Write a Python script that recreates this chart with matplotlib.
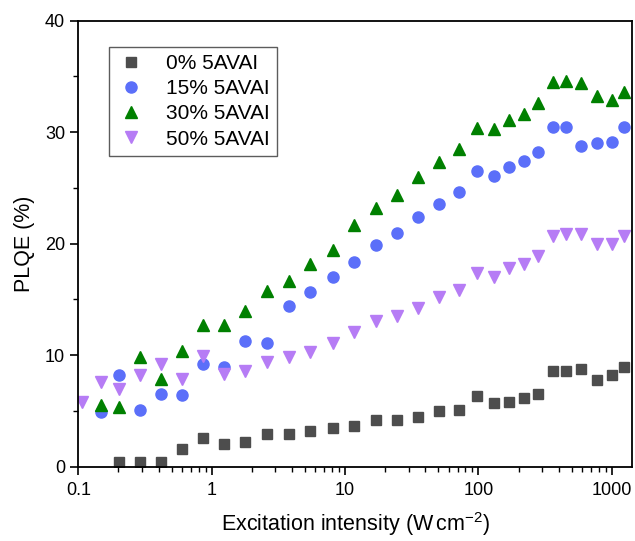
import numpy as np
import matplotlib.pyplot as plt
from matplotlib.ticker import FixedLocator, NullFormatter, LogLocator

plt.rcParams['font.family'] = ['Liberation Sans', 'DejaVu Sans']
plt.rcParams['mathtext.fontset'] = 'custom'
plt.rcParams['mathtext.rm'] = 'Liberation Sans'
plt.rcParams['mathtext.it'] = 'Liberation Sans:italic'

# excitation intensity grid (W cm-2)
x_all = [0.106, 0.147, 0.203, 0.29, 0.415, 0.596, 0.856, 1.24, 1.79, 2.60,
         3.78, 5.48, 8.11, 11.7, 17.1, 24.6, 35.4, 50.3, 71.1, 97, 130, 170,
         218, 281, 360, 455, 590, 769, 1002, 1233]

x_0 = x_all[2:]
y_0 = [0.40, 0.38, 0.40, 1.56, 2.55, 2.07, 2.25, 2.97, 2.95, 3.21, 3.48, 3.64,
       4.17, 4.15, 4.47, 4.97, 5.07, 6.32, 5.69, 5.78, 6.14, 6.53, 8.57, 8.60,
       8.72, 7.82, 8.21, 8.98]

x_15 = x_all[1:]
y_15 = [4.89, 8.24, 5.12, 6.50, 6.45, 9.25, 8.96, 11.29, 11.14, 14.38, 15.67,
        17.02, 18.40, 19.92, 20.94, 22.41, 23.60, 24.62, 26.48, 26.06, 26.84,
        27.44, 28.19, 30.43, 30.43, 28.79, 28.99, 29.08, 30.43]

x_30 = x_all[1:]
y_30 = [5.51, 5.39, 9.83, 7.88, 10.40, 12.67, 12.67, 13.99, 15.72, 16.68,
        18.18, 19.47, 21.65, 23.22, 24.35, 25.97, 27.29, 28.48, 30.34, 30.28,
        31.12, 31.66, 32.61, 34.50, 34.56, 34.41, 33.24, 32.86, 33.64]

x_50 = x_all
y_50 = [5.84, 7.58, 7.01, 8.24, 9.23, 7.88, 9.95, 8.33, 8.57, 9.43, 9.88,
        10.31, 11.09, 12.08, 13.03, 13.51, 14.26, 15.25, 15.88, 17.34, 17.02,
        17.79, 18.18, 18.87, 20.67, 20.85, 20.88, 20.01, 20.01, 20.73]

labels = ['0% 5AVAI', '15% 5AVAI', '30% 5AVAI', '50% 5AVAI']

fig = plt.figure(figsize=(6.35, 5.41), dpi=100)
ax = fig.add_axes([0.1233, 0.1373, 0.8715, 0.8244])

ax.plot(x_0, y_0, 's', color='#4d4d4d', ms=7.2, mec='#4d4d4d', label=labels[0])
ax.plot(x_15, y_15, 'o', color='#5b6ff9', ms=8, mec='#5b6ff9', label=labels[1])
ax.plot(x_30, y_30, '^', color='#008000', ms=8.5, mec='#008000', label=labels[2])
ax.plot(x_50, y_50, 'v', color='#b67cf5', ms=8.5, mec='#b67cf5', label=labels[3])

ax.set_xscale('log')
ax.set_xlim(0.1, 1410)
ax.set_ylim(0, 40)
ax.set_xticks([0.1, 1, 10, 100, 1000])
ax.set_xticklabels(['0.1', '1', '10', '100', '1000'])
ax.xaxis.set_minor_locator(LogLocator(base=10, subs=np.arange(2, 10)))
ax.xaxis.set_minor_formatter(NullFormatter())
ax.set_yticks([0, 10, 20, 30, 40])
ax.yaxis.set_minor_locator(FixedLocator([5, 15, 25, 35]))

ax.tick_params(which='major', direction='out', length=6, width=1.2, labelsize=13)
ax.tick_params(axis='x', which='major', pad=5)
ax.tick_params(which='minor', direction='out', length=3.5, width=1)
for s in ax.spines.values():
    s.set_linewidth(1.3)

ax.set_xlabel('Excitation intensity (W$\\,$cm$^{\\mathrm{-2}}$)', fontsize=15.5, labelpad=8)
ax.set_ylabel('PLQE (%)', fontsize=15.5, labelpad=7)

leg = ax.legend(loc='upper left', bbox_to_anchor=(0.055, 0.942), fontsize=15,
                frameon=True, fancybox=False, edgecolor='#333333',
                handletextpad=1.0, labelspacing=0.3, borderpad=0.35,
                handlelength=1.4, borderaxespad=0)
leg.get_frame().set_linewidth(1)

fig.savefig('out.png', dpi=100)
